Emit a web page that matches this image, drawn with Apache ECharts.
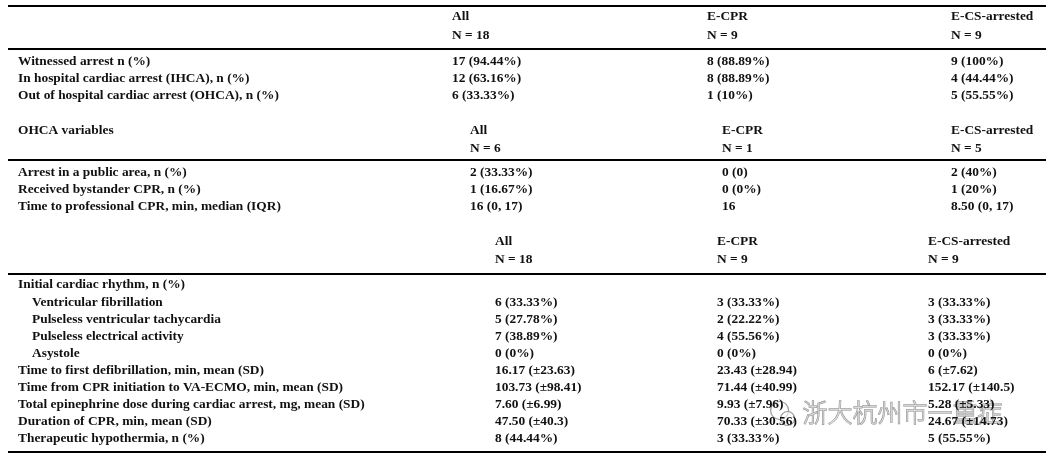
<!DOCTYPE html>
<html><head><meta charset="utf-8">
<script src="https://cdn.jsdelivr.net/npm/echarts@6/dist/echarts.min.js"></script>
<style>html,body{margin:0;padding:0;background:#fff}#c{width:1054px;height:463px}</style>
</head><body><div id="c"></div>
<script>
// ---------- data ----------
const groups = ['All', 'E-CPR', 'E-CS-arrested'];

const sec1N = [18, 9, 9];
const sec1Labels = [
  'Witnessed arrest n (%)',
  'In hospital cardiac arrest (IHCA), n (%)',
  'Out of hospital cardiac arrest (OHCA), n (%)'
];
const sec1All  = ['17 (94.44%)', '12 (63.16%)', '6 (33.33%)'];
const sec1Ecpr = ['8 (88.89%)', '8 (88.89%)', '1 (10%)'];
const sec1Ecs  = ['9 (100%)', '4 (44.44%)', '5 (55.55%)'];

const sec2Title = 'OHCA variables';
const sec2N = [6, 1, 5];
const sec2Labels = [
  'Arrest in a public area, n (%)',
  'Received bystander CPR, n (%)',
  'Time to professional CPR, min, median (IQR)'
];
const sec2All  = ['2 (33.33%)', '1 (16.67%)', '16 (0, 17)'];
const sec2Ecpr = ['0 (0)', '0 (0%)', '16'];
const sec2Ecs  = ['2 (40%)', '1 (20%)', '8.50 (0, 17)'];

const sec3N = [18, 9, 9];
const sec3Labels = [
  'Initial cardiac rhythm, n (%)',
  'Ventricular fibrillation',
  'Pulseless ventricular tachycardia',
  'Pulseless electrical activity',
  'Asystole',
  'Time to first defibrillation, min, mean (SD)',
  'Time from CPR initiation to VA-ECMO, min, mean (SD)',
  'Total epinephrine dose during cardiac arrest, mg, mean (SD)',
  'Duration of CPR, min, mean (SD)',
  'Therapeutic hypothermia, n (%)'
];
const sec3Indented = [false, true, true, true, true, false, false, false, false, false];
const sec3All  = ['', '6 (33.33%)', '5 (27.78%)', '7 (38.89%)', '0 (0%)', '16.17 (\u00b123.63)', '103.73 (\u00b198.41)', '7.60 (\u00b16.99)', '47.50 (\u00b140.3)', '8 (44.44%)'];
const sec3Ecpr = ['', '3 (33.33%)', '2 (22.22%)', '4 (55.56%)', '0 (0%)', '23.43 (\u00b128.94)', '71.44 (\u00b140.99)', '9.93 (\u00b17.96)', '70.33 (\u00b130.56)', '3 (33.33%)'];
const sec3Ecs  = ['', '3 (33.33%)', '3 (33.33%)', '3 (33.33%)', '0 (0%)', '6 (\u00b17.62)', '152.17 (\u00b1140.5)', '5.28 (\u00b15.33)', '24.67 (\u00b114.73)', '5 (55.55%)'];

const watermark = '浙大杭州市一重症';

// ---------- layout (positions / styles) ----------
const layout = {
  ruleX: [8, 1046], topRule: 6, bottomRule: 452, indentX: 32,
  sections: [
    { titleY: 17, nY: 36, ruleY: 49, rowY0: 62, rowStep: 17, colX: [18, 452, 707, 951] },
    { titleY: 131, nY: 149, ruleY: 160, rowY0: 173, rowStep: 17, colX: [18, 470, 722, 951] },
    { titleY: 242, nY: 260, ruleY: 274, rowY0: 285, rowStep: 17.1, colX: [18, 495, 717, 928] }
  ]
};
const FONT = 'bold 13.4px "Liberation Serif", serif';

// ---------- build cells ----------
const cells = [];
const rules = [];
function addSection(s, title, ns, labels, cols, indented) {
  const L = layout.sections[s];
  if (title) cells.push({ x: L.colX[0], y: L.titleY, t: title });
  groups.forEach((g, i) => {
    cells.push({ x: L.colX[i + 1], y: L.titleY, t: g });
    cells.push({ x: L.colX[i + 1], y: L.nY, t: 'N = ' + ns[i] });
  });
  rules.push([layout.ruleX[0], layout.ruleX[1], L.ruleY]);
  labels.forEach((lab, r) => {
    const y = L.rowY0 + r * L.rowStep;
    cells.push({ x: indented && indented[r] ? layout.indentX : L.colX[0], y, t: lab });
    cols.forEach((col, c) => { if (col[r]) cells.push({ x: L.colX[c + 1], y, t: col[r] }); });
  });
}
rules.push([layout.ruleX[0], layout.ruleX[1], layout.topRule]);
addSection(0, '', sec1N, sec1Labels, [sec1All, sec1Ecpr, sec1Ecs]);
addSection(1, sec2Title, sec2N, sec2Labels, [sec2All, sec2Ecpr, sec2Ecs]);
addSection(2, '', sec3N, sec3Labels, [sec3All, sec3Ecpr, sec3Ecs], sec3Indented);
rules.push([layout.ruleX[0], layout.ruleX[1], layout.bottomRule]);

const chart = echarts.init(document.getElementById('c'), null, { renderer: 'canvas' });
chart.setOption({
  animation: false,
  backgroundColor: '#fff',
  grid: { left: 0, right: 0, top: 0, bottom: 0 },
  xAxis: { type: 'value', min: 0, max: 1054, show: false },
  yAxis: { type: 'value', min: 0, max: 463, inverse: true, show: false },
  series: [
    {
      type: 'custom', silent: true, clip: false,
      data: rules,
      renderItem: (params, api) => {
        const a = api.coord([api.value(0), api.value(2)]);
        const b = api.coord([api.value(1), api.value(2)]);
        return { type: 'line', shape: { x1: a[0], y1: a[1], x2: b[0], y2: b[1] }, style: { stroke: '#000', lineWidth: 2 } };
      }
    },
    {
      type: 'custom', silent: true, clip: false,
      data: cells.map((c, i) => [c.x, c.y, i]),
      renderItem: (params, api) => {
        const p = api.coord([api.value(0), api.value(1)]);
        return { type: 'text', x: p[0], y: p[1], style: { text: cells[api.value(2)].t, font: FONT, fill: '#111', verticalAlign: 'middle', align: 'left' } };
      }
    }
  ],
  graphic: [{
    type: 'group', left: 770, top: 399, z: 100, children: [
      { type: 'circle', shape: { cx: 12, cy: 11, r: 9 }, style: { fill: 'rgba(255,255,255,0.6)', stroke: '#9a9a9a', lineWidth: 1.2 } },
      { type: 'circle', shape: { cx: 20, cy: 19, r: 7 }, style: { fill: 'rgba(255,255,255,0.6)', stroke: '#9a9a9a', lineWidth: 1.2 } },
      { type: 'text', x: 35, y: 0, style: { text: watermark, font: '300 25px "Noto Sans CJK SC", sans-serif', fill: 'rgba(255,255,255,0.55)', stroke: '#8c8c8c', lineWidth: 1 } }
    ]
  }]
});
</script></body></html>
